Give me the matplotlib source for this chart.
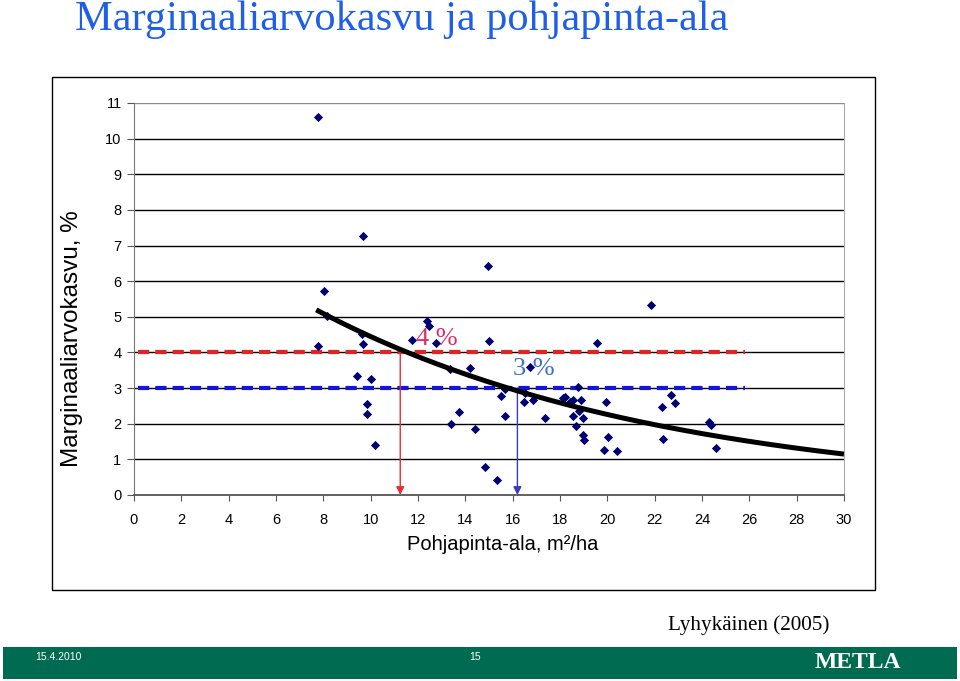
import numpy as np
import matplotlib
matplotlib.use("Agg")
import matplotlib.pyplot as plt
from matplotlib.patches import Rectangle

plt.rcParams["font.family"] = ["Liberation Sans", "DejaVu Sans"]

W, H = 960, 681

# ── data ─────────────────────────────────────────────────────────────────────
ba = [7.78, 8.03, 8.17, 7.76, 9.68, 9.62, 9.67, 9.44, 10.02, 9.85, 9.85, 10.2,
      11.76, 12.37, 12.48, 12.75, 15.0, 13.36, 14.19, 13.41, 13.74, 14.41,
      14.83, 15.33, 15.68, 15.52, 15.68, 16.48, 16.88, 16.74, 17.38, 16.5,
      14.96, 21.86, 19.58, 18.11, 18.22, 18.43, 18.53, 18.74, 18.88, 18.79,
      18.53, 18.99, 18.67, 18.96, 19.0, 19.94, 20.02, 19.85, 20.41, 22.30,
      22.67, 22.87, 22.37, 24.3, 24.39, 24.61]
growth = [10.6, 5.72, 5.03, 4.17, 7.27, 4.51, 4.23, 3.34, 3.26, 2.54, 2.27, 1.40,
          4.35, 4.88, 4.74, 4.26, 4.31, 3.54, 3.57, 1.99, 2.34, 1.85,
          0.79, 0.41, 2.97, 2.78, 2.23, 2.61, 2.67, 3.6, 2.16, 2.85,
          6.43, 5.33, 4.26, 2.71, 2.76, 2.62, 2.67, 3.02, 2.67, 2.35,
          2.22, 2.15, 1.94, 1.68, 1.53, 2.62, 1.62, 1.26, 1.23, 2.48,
          2.80, 2.58, 1.58, 2.06, 1.96, 1.33]

# exponential trend line  y = a * exp(b * x)
trend_a, trend_b = 8.75, -0.0677
trend_range = (7.7, 30)

levels = [4, 3]               # 4 % and 3 % lines
level_ba = [11.25, 16.2]      # where the arrows hit the x axis
level_labels = ["4 %", "3 %"]
level_end = 25.8

xticks = list(range(0, 31, 2))
yticks = list(range(0, 12))

# ── figure ───────────────────────────────────────────────────────────────────
fig = plt.figure(figsize=(W / 100, H / 100), dpi=100)
fig.patch.set_facecolor("white")

def px(x, y):
    return x / W, 1 - y / H

fig.add_artist(Rectangle(px(52, 590), (875 - 52) / W, (590 - 77) / H,
                         fill=False, lw=1.0, ec="black",
                         transform=fig.transFigure))

ax = fig.add_axes([134 / W, 1 - 495 / H, 710 / W, 392 / H])
ax.set_xlim(0, 30)
ax.set_ylim(0, 11)
ax.set_xticks(xticks)
ax.set_yticks(yticks)
for y in yticks[1:]:
    ax.axhline(y, color="#888888" if y == 11 else "black", lw=1.0, zorder=0)
ax.spines["top"].set_visible(False)
ax.spines["left"].set_color("#777777")
ax.spines["right"].set_color("#aaaaaa")
ax.spines["bottom"].set_color("#555555")
ax.spines["bottom"].set_linewidth(1.3)
ax.tick_params(axis="y", direction="out", length=5, labelsize=10.5, pad=4,
               color="#555555")
ax.tick_params(axis="x", direction="out", length=4, labelsize=10.5, pad=9,
               color="#555555")

# dashed target lines
ax.plot([0.15, level_end], [levels[0]] * 2, color="#e02424", lw=3,
        dashes=(2.7, 1.45), zorder=2)
ax.plot([0.15, level_end], [levels[1]] * 2, color="#1414dd", lw=3,
        dashes=(2.7, 1.45), zorder=2)

# arrows down to x axis
for lv, xb, c in zip(levels, level_ba, ["#e03030", "#3a3ac0"]):
    ax.annotate("", xy=(xb, 0), xytext=(xb, lv),
                arrowprops=dict(arrowstyle="-|>", color=c, lw=1.0,
                                mutation_scale=12, shrinkA=0, shrinkB=0),
                zorder=3)

ax.scatter(ba, growth, marker="D", s=22, color="#000070", zorder=4,
           linewidths=0)

xt = np.linspace(trend_range[0], trend_range[1], 200)
ax.plot(xt, trend_a * np.exp(trend_b * xt), color="black", lw=3.6, zorder=5,
        solid_capstyle="butt")

ax.text(11.9, 4.22, level_labels[0], color="#d8306a", fontsize=19,
        family="Liberation Serif", va="baseline", zorder=6)
ax.text(16.0, 3.38, level_labels[1], color="#3a6fd0", fontsize=19,
        family="Liberation Serif", va="baseline", zorder=6)

fig.text(*px(503, 545), "Pohjapinta-ala, m²/ha", ha="center", va="center",
         fontsize=14.5)
fig.text(*px(72, 339), "Marginaaliarvokasvu, %", ha="center", va="center",
         rotation=90, fontsize=17.5)

fig.text(*px(75, 20), "Marginaaliarvokasvu ja pohjapinta-ala", ha="left",
         va="center", fontsize=30.5, color="#1f5fe6", family="Liberation Serif")

fig.text(*px(668, 625), "Lyhykäinen (2005)", ha="left", va="center",
         fontsize=15.2, family="Liberation Serif")

# footer bar
fig.add_artist(Rectangle(px(3, 679), (957 - 3) / W, (679 - 647) / H,
                         fc="#006b50", ec="none", transform=fig.transFigure))
fig.text(*px(35, 657), "15.4.2010", color="white", fontsize=7.5,
         ha="left", va="center")
fig.text(*px(475, 657), "15", color="white", fontsize=7.5,
         ha="center", va="center")
fig.text(*px(858, 662), "METLA", color="white", fontsize=17,
         ha="center", va="center", family="Liberation Serif", weight="bold")

fig.savefig("out.png", dpi=100)
